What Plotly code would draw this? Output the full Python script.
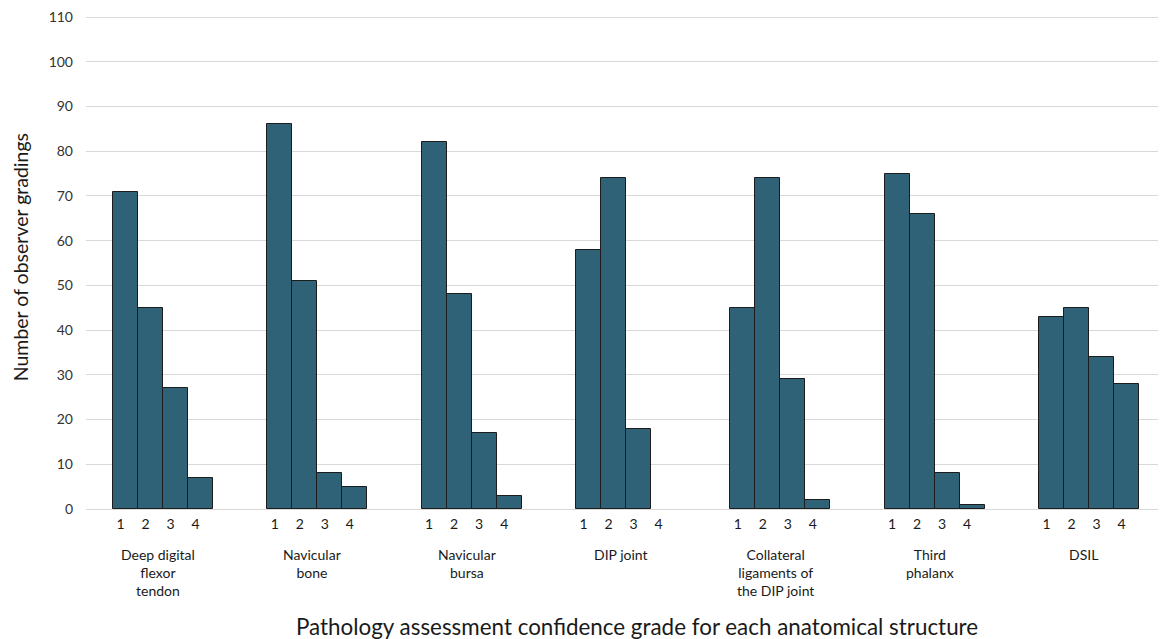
import plotly.graph_objects as go

structures = [
    "Deep digital<br>flexor<br>tendon",
    "Navicular<br>bone",
    "Navicular<br>bursa",
    "DIP joint",
    "Collateral<br>ligaments of<br>the DIP joint",
    "Third<br>phalanx",
    "DSIL",
]
grades = ["1", "2", "3", "4"]
counts = [
    [71, 45, 27, 7],
    [86, 51, 8, 5],
    [82, 48, 17, 3],
    [58, 74, 18, 0],
    [45, 74, 29, 2],
    [75, 66, 8, 1],
    [43, 45, 34, 28],
]
y_ticks = list(range(0, 111, 10))

PITCH = 6.17  # group pitch in bar widths
FONT = "Lato"
BAR = "#2F6277"

xs, ys, tick_text, line_w = [], [], [], []
for g, vals in enumerate(counts):
    for i, v in enumerate(vals):
        xs.append(g * PITCH + i)
        ys.append(v)
        tick_text.append(grades[i])
        line_w.append(1 if v > 0 else 0)

fig = go.Figure()
fig.add_trace(go.Bar(
    x=xs, y=ys, width=1.0,
    marker=dict(color=BAR, line=dict(color="#1c1c1c", width=line_w)),
    hoverinfo="x+y",
))

for g, name in enumerate(structures):
    fig.add_annotation(
        x=g * PITCH + 1.5, xref="x", y=-0.072, yref="paper",
        text=name, showarrow=False, yanchor="top", xanchor="center",
        xshift=-5, font=dict(family=FONT, size=14, color="#1a1a1a"),
        align="center",
    )

fig.add_annotation(
    x=0.51, xref="paper", y=-0.238, yref="paper",
    text="Pathology assessment confidence grade for each anatomical structure",
    showarrow=False, xanchor="center", yanchor="middle",
    font=dict(family=FONT, size=22.4, color="#1a1a1a"),
)
fig.add_annotation(
    x=-0.0605, xref="paper", y=0.51, yref="paper",
    text="Number of observer gradings", textangle=-90,
    showarrow=False, xanchor="center", yanchor="middle",
    font=dict(family=FONT, size=19.5, color="#1a1a1a"),
)

fig.update_layout(
    width=1158, height=631,
    margin=dict(l=78, r=0, t=8, b=130),
    paper_bgcolor="white", plot_bgcolor="white",
    showlegend=False,
    bargap=0,
    font=dict(family=FONT, size=14, color="#333333"),
)
fig.update_xaxes(
    range=[-0.5 - 1.08, 6 * PITCH + 3.5 + 1.08],
    tickmode="array", tickvals=xs, ticktext=tick_text,
    tickfont=dict(family=FONT, size=14, color="#1a1a1a"),
    ticklabelshift=-5, ticklabelstandoff=5,
    showgrid=False, zeroline=False, showline=False, ticks="",
)
fig.update_yaxes(
    range=[0, 110.25], tickmode="array", tickvals=y_ticks,
    showgrid=True, gridcolor="#d9d9d9", gridwidth=1,
    zeroline=True, zerolinecolor="#d9d9d9", zerolinewidth=1,
    showline=False, ticks="", ticklabelstandoff=12,
    tickfont=dict(family=FONT, size=14, color="#333333"),
)

fig.write_html("out.html")
